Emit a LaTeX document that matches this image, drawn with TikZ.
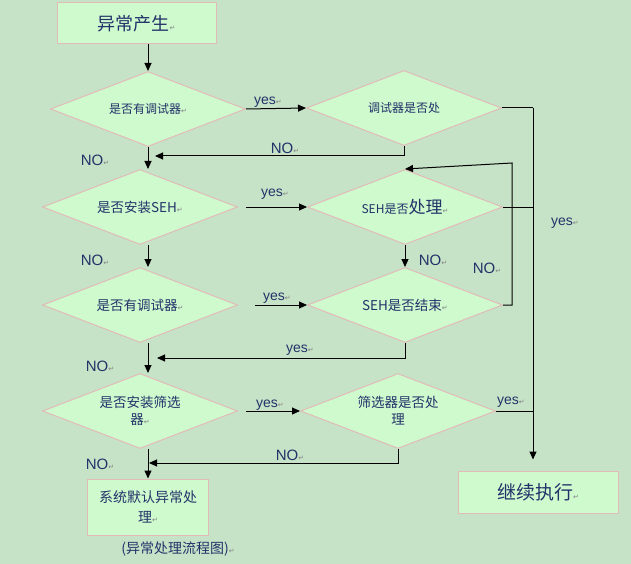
\documentclass[tikz,border=0pt]{standalone}
\usepackage{fontspec}
\setmainfont{Liberation Sans}
\newfontfamily\cjk{Noto Sans CJK SC}
\newfontfamily\symf{DejaVu Sans}
\usetikzlibrary{shapes.geometric,arrows.meta}

\definecolor{bg}{RGB}{199,227,199}
\definecolor{boxfill}{RGB}{206,250,206}
\definecolor{boxline}{RGB}{226,186,184}
\definecolor{ink}{RGB}{35,50,105}
\definecolor{retgray}{RGB}{130,130,130}
\newcommand{\retmark}{{\symf\fontsize{7}{7}\selectfont\textcolor{retgray}{↵}}}

\tikzset{
  flowbox/.style={draw=boxline,fill=boxfill,line width=1pt,inner sep=0pt,text=ink,align=center},
  decision/.style={diamond,draw=boxline,fill=boxfill,line width=1pt,inner sep=0pt,aspect=2.6,
    minimum width=195pt,minimum height=75pt,text=ink,align=center,
    font=\cjk\fontsize{13.5}{17}\selectfont},
  arr/.style={-{Triangle[length=8pt,width=7pt]},line width=1pt},
  lin/.style={line width=1pt},
  lbl/.style={text=ink,inner sep=0pt,font=\fontsize{14}{14}\selectfont},
}

\begin{document}
\begin{tikzpicture}[x=1pt,y=-1pt]
  \fill[bg] (0,0) rectangle (631,564);
  \useasboundingbox (0,0) rectangle (631,564);

  % boxes
  \node[flowbox,minimum width=159pt,minimum height=41pt,font=\cjk\fontsize{18}{18}\selectfont]
    (start) at (136.5,23.5) {异常产生\retmark};
  \node[flowbox,minimum width=121pt,minimum height=56pt,font=\cjk\fontsize{14}{20}\selectfont]
    (def) at (148,507) {系统默认异常处\\理\retmark};
  \node[flowbox,minimum width=160pt,minimum height=42pt,font=\cjk\fontsize{19}{19}\selectfont]
    (cont) at (538,492) {继续执行\retmark};

  % decisions
  \node[decision,font=\cjk\fontsize{12}{14}\selectfont] (dbg1) at (148,109) {是否有调试器\retmark};
  \node[decision,font=\cjk\fontsize{12}{14}\selectfont] (dbgh) at (404,108) {调试器是否处};
  \node[decision] (seh) at (140,207) {是否安装SEH\retmark};
  \node[decision,font=\cjk\fontsize{12}{14}\selectfont] (sehh) at (405,207) {SEH是否{\fontsize{17}{17}\selectfont 处理}\retmark};
  \node[decision] (dbg2) at (140,305) {是否有调试器\retmark};
  \node[decision] (sehend) at (405,305) {SEH是否结束\retmark};
  \node[decision] (flt) at (140,411) {是否安装筛选\\器\retmark};
  \node[decision] (flth) at (398,411) {筛选器是否处\\理};

  \node[text=ink,inner sep=0pt,font=\cjk\fontsize{14}{14}\selectfont] (cap) at (178,549) {(异常处理流程图)\retmark};

  % main line
  \draw[arr] (dbg1.north |- start.south) -- (dbg1.north);
  \draw[arr] (dbg1.south) -- (dbg1.south |- seh.north);
  \draw[arr] (dbg1.south |- seh.south) -- (dbg1.south |- dbg2.north);
  \draw[arr] (dbg1.south |- dbg2.south) -- (dbg1.south |- flt.north);
  \draw[arr] (dbg1.south |- flt.south) -- (dbg1.south |- def.north);

  % to the right
  \draw[arr] (dbg1.east) -- (dbgh.west);
  \draw[arr,shorten <=8pt] (seh.east) -- (sehh.west);
  \draw[arr,shorten <=17pt] (dbg2.east) -- (sehend.west);
  \draw[arr,shorten <=8pt] (flt.east) -- (flth.west);
  \draw[arr] (sehh.south) -- (sehend.north);

  % back to the main line
  \coordinate (back1) at (155,156);
  \coordinate (back2) at (157,358);
  \coordinate (back3) at (149,463);
  \draw[arr] (dbgh.south) |- (back1);
  \draw[arr] (sehend.south) |- (back2);
  \draw[arr] (flth.south) |- (back3);

  % SEH loop
  \coordinate (loop) at (512,163);
  \draw[arr] (sehend.east) -| (loop) -- (sehh.north);

  % handled: go on
  \coordinate (rt) at (533,108);
  \draw[lin] (dbgh.east) -- (rt);
  \draw[lin] (sehh.east) -- (sehh.east -| rt);
  \draw[lin] (flth.east) -- (flth.east -| rt);
  \draw[arr,shorten >=11pt] (rt) -- (rt |- cont.north);

  % labels
  \foreach \x/\y [count=\i] in {95/160,95/260,100/366,100/464,285/148,433/260,487/268,290/455}
    \node[lbl,font=\fontsize{15}{15}\selectfont] (no\i) at (\x,\y) {NO\retmark};
  \foreach \x/\y [count=\i] in {268/102,275/194,277/298,300/350,270/405,511/402,565/223}
    \node[lbl] (yes\i) at (\x,\y) {yes\retmark};
\end{tikzpicture}
\end{document}
